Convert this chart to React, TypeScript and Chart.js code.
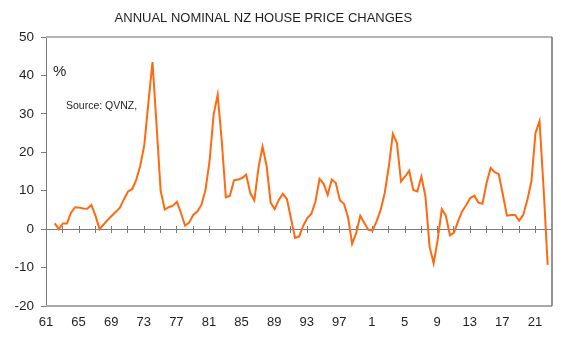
import { useEffect, useRef } from "react";
import { Chart, registerables } from "chart.js";

Chart.register(...registerables);

const TITLE = "ANNUAL NOMINAL NZ HOUSE PRICE CHANGES";
const UNIT_LABEL = "%";
const SOURCE_LABEL = "Source: QVNZ,";

// Semi-annual observations, first one at the start of 1962
const FIRST_PERIOD = 1962.07;
const PERIOD_STEP = 0.5;

const changes1960s = [1.5, 0.0, 1.5, 1.5, 4.3, 5.7, 5.6, 5.4, 5.3, 6.3, 3.5, 0.0, 1.2, 2.4, 3.5, 4.5];
const changes1970s = [5.6, 7.8, 9.8, 10.4, 12.8, 16.5, 22.0, 33.0, 43.5, 27.0, 10.0, 5.1, 5.7, 6.1, 7.1, 4.2, 0.9, 1.7, 3.7, 4.6];
const changes1980s = [6.3, 10.2, 17.6, 29.8, 35.0, 23.0, 8.3, 8.7, 12.7, 12.9, 13.3, 14.2, 9.4, 7.5, 15.9, 21.5, 16.5, 6.9, 5.2, 7.6];
const changes1990s = [9.2, 7.8, 2.7, -2.3, -1.9, 0.9, 2.9, 4.0, 7.2, 13.1, 11.8, 8.9, 12.9, 12.0, 7.5, 6.6, 3.1, -3.8, -1.0, 3.5];
const changes2000s = [1.6, -0.2, -0.4, 2.0, 5.0, 9.4, 16.3, 24.8, 22.4, 12.4, 13.7, 15.2, 10.2, 9.8, 13.7, 8.5, -4.5, -8.9, -2.8, 5.2];
const changes2010s = [3.5, -1.6, -0.9, 2.0, 4.6, 6.3, 8.1, 8.7, 6.9, 6.6, 12.0, 15.9, 14.8, 14.3, 8.9, 3.5, 3.7, 3.7, 2.2, 3.7];
const changes2020s = [7.6, 12.4, 25.0, 28.1, 10.5, -9.3];

const xLabelYears = [1961, 1965, 1969, 1973, 1977, 1981, 1985, 1989, 1993, 1997, 2001, 2005, 2009, 2013, 2017, 2021];
const xMinorTickYears = [
  1963, 1965, 1967, 1969, 1971, 1973, 1975, 1977, 1979, 1981, 1983, 1985, 1987, 1989, 1991,
  1993, 1995, 1997, 1999, 2001, 2003, 2005, 2007, 2009, 2011, 2013, 2015, 2017, 2019, 2021,
];
const X_MIN = 1961;
const X_MAX = 2023.1;
const Y_MIN = -20;
const Y_MAX = 50;
const Y_STEP = 10;

const FONT = "'Liberation Sans', Arial, sans-serif";
const TEXT_COLOR = "#1f1f1f";
const LINE_COLOR = "#ff6a10";

const decorPlugin = {
  id: "decor",
  beforeDatasetsDraw(chart: any) {
    const { ctx, chartArea: a, scales } = chart;
    const x = scales.x;
    const y = scales.y;
    const seg = (x1: number, y1: number, x2: number, y2: number) => {
      ctx.beginPath();
      ctx.moveTo(x1, y1);
      ctx.lineTo(x2, y2);
      ctx.stroke();
    };
    ctx.save();
    ctx.strokeStyle = "#b4b4b4";
    ctx.lineWidth = 2;
    seg(a.left, a.top, a.right, a.top);
    ctx.strokeStyle = "#a8a8a8";
    seg(a.left, a.bottom, a.right, a.bottom);
    ctx.strokeStyle = "#727272";
    ctx.lineWidth = 1.5;
    seg(a.right, a.top, a.right, a.bottom);
    const y0 = Math.round(y.getPixelForValue(0)) + 0.5;
    ctx.strokeStyle = "#7a7a7a";
    ctx.lineWidth = 1;
    seg(a.left, y0, a.right, y0);
    for (const yr of xMinorTickYears) {
      const px = Math.round(x.getPixelForValue(yr)) + 0.5;
      seg(px, y0 - 3.5, px, y0 + 3.5);
    }
    ctx.restore();
  },
  afterDraw(chart: any) {
    const { ctx, chartArea: a } = chart;
    ctx.save();
    ctx.fillStyle = TEXT_COLOR;
    ctx.textBaseline = "middle";
    ctx.textAlign = "center";
    ctx.font = `13px ${FONT}`;
    ctx.fillText(TITLE, chart.width * 0.466, 10);
    ctx.textAlign = "left";
    ctx.font = `15px ${FONT}`;
    ctx.fillText(UNIT_LABEL, a.left + 7, a.top + 35);
    ctx.font = `10.5px ${FONT}`;
    ctx.fillText(SOURCE_LABEL, a.left + 20, a.top + 69.5);
    ctx.restore();
  },
};

export default function App() {
  const ref = useRef<HTMLCanvasElement | null>(null);

  useEffect(() => {
    if (!ref.current) return;
    const values = [
      ...changes1960s,
      ...changes1970s,
      ...changes1980s,
      ...changes1990s,
      ...changes2000s,
      ...changes2010s,
      ...changes2020s,
    ];
    const points = values.map((v, i) => ({ x: FIRST_PERIOD + i * PERIOD_STEP, y: v }));

    const chart = new Chart(ref.current, {
      type: "line",
      data: {
        datasets: [
          {
            data: points,
            borderColor: LINE_COLOR,
            borderWidth: 2,
            pointRadius: 0,
            tension: 0,
            fill: false,
          },
        ],
      },
      options: {
        responsive: false,
        animation: false,
        layout: { padding: { left: 0, right: 4, top: 29, bottom: 0 } },
        plugins: {
          legend: { display: false },
          title: { display: false },
          tooltip: { enabled: false },
        },
        scales: {
          x: {
            type: "linear",
            min: X_MIN,
            max: X_MAX,
            afterBuildTicks: (scale: any) => {
              scale.ticks = xLabelYears.map((v) => ({ value: v }));
            },
            afterFit: (scale: any) => {
              scale.height = 33;
            },
            grid: { display: false, drawTicks: false },
            border: { display: false },
            ticks: {
              autoSkip: false,
              maxRotation: 0,
              padding: 9,
              color: TEXT_COLOR,
              font: { family: FONT, size: 13 },
              callback: (v: any) => String(Number(v) % 100),
            },
          },
          y: {
            min: Y_MIN,
            max: Y_MAX,
            afterFit: (scale: any) => {
              scale.width = 38;
            },
            grid: {
              drawOnChartArea: false,
              drawTicks: true,
              tickLength: 5,
              tickColor: "#7a7a7a",
            },
            border: { display: true, color: "#7a7a7a", width: 1 },
            ticks: {
              stepSize: Y_STEP,
              padding: 7,
              color: TEXT_COLOR,
              font: { family: FONT, size: 13.5 },
            },
          },
        },
      },
      plugins: [decorPlugin],
    });
    return () => chart.destroy();
  }, []);

  return <canvas ref={ref} width={548} height={331} style={{ display: "block", width: 548, height: 331 }} />;
}
